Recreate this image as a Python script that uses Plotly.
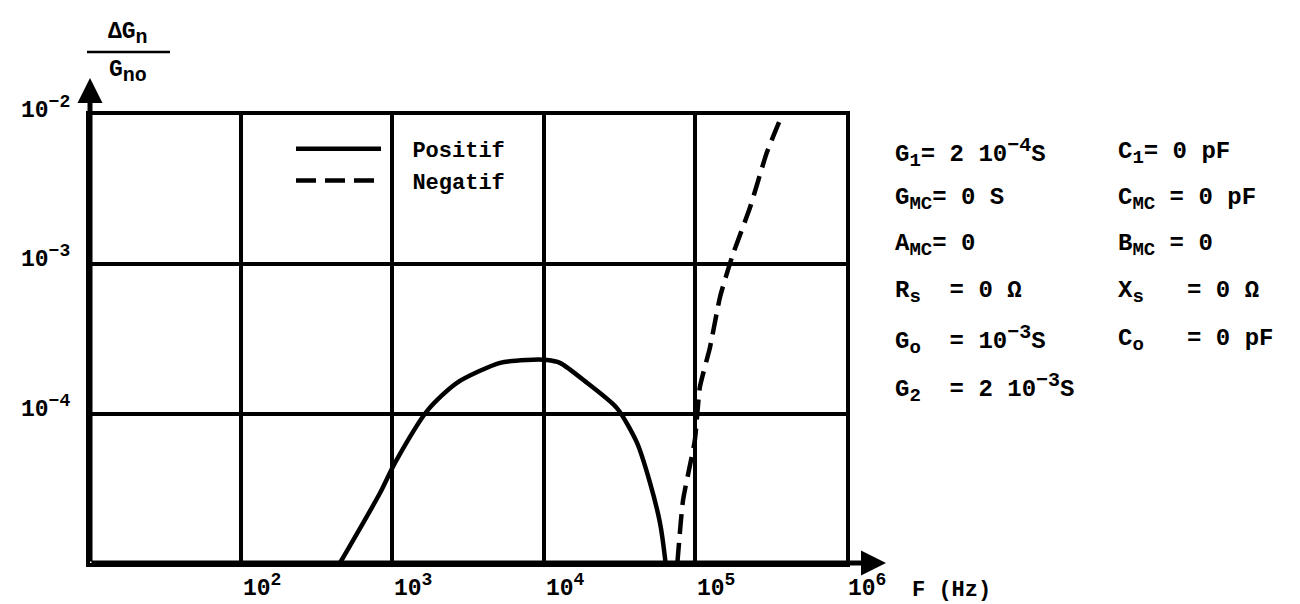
import plotly.graph_objects as go

# ---- data ----
freq_pos = [450, 828, 1040, 1718, 2673, 5152, 7762, 10520, 12820, 19360, 30550, 41500, 50580, 58880, 63530, 64000]
ratio_pos = [1.0e-5, 2.94e-5, 4.68e-5, 1.06e-4, 1.61e-4, 2.19e-4, 2.29e-4, 2.29e-4, 2.19e-4, 1.61e-4,
             1.09e-4, 6.37e-5, 3.44e-5, 1.85e-5, 1.08e-5, 1.0e-5]

freq_neg = [76700, 83600, 100000, 108100, 126200, 146900, 176200, 231700, 299900, 377600]
ratio_neg = [1.0e-5, 2.63e-5, 6.6e-5, 1.51e-4, 2.8e-4, 6.05e-4, 1.12e-3, 2.40e-3, 5.62e-3, 1.0e-2]

series_names = ["Positif", "Negatif"]
x_tick_exps = [2, 3, 4, 5, 6]
y_tick_exps = [-2, -3, -4]


def sup(t, s=18):
    return '<sup><span style="font-size:%dpx">%s</span></sup>' % (s, t)


def sub(t, s=19):
    return '<sub><span style="font-size:%dpx">%s</span></sub>' % (s, t)


params_left = ["G" + sub("1") + "= 2 10" + sup("\u22124", 20) + "S",
               "G" + sub("MC") + "= 0 S",
               "A" + sub("MC") + "= 0",
               "R" + sub("s") + "\u00a0 = 0 \u03a9",
               "G" + sub("o") + "\u00a0 = 10" + sup("\u22123", 20) + "S",
               "G" + sub("2") + "\u00a0 = 2 10" + sup("\u22123", 20) + "S"]
params_right = ["C" + sub("1") + "= 0 pF",
                "C" + sub("MC") + " = 0 pF",
                "B" + sub("MC") + " = 0",
                "X" + sub("s") + "\u00a0\u00a0 = 0 \u03a9",
                "C" + sub("o") + "\u00a0\u00a0 = 0 pF"]

# ---- layout geometry ----
W, H = 1300, 604
L, R, T, B = 90, 454, 115, 41
PW, PH = W - L - R, H - T - B
FONT = "Liberation Mono"


def px_x(p):
    return (p - L) / PW


def px_y(p):
    return (H - B - p) / PH


fig = go.Figure()
fig.add_trace(go.Scatter(x=freq_pos, y=ratio_pos, mode="lines", name="\u00a0\u00a0" + series_names[0],
                         line=dict(color="black", width=4.5, shape="spline", smoothing=0.7)))
fig.add_trace(go.Scatter(x=freq_neg, y=ratio_neg, mode="lines", name="\u00a0\u00a0" + series_names[1],
                         line=dict(color="black", width=4.5, dash="20px,9px", shape="spline", smoothing=0.5)))

axis_common = dict(type="log", dtick=1, showgrid=True, gridcolor="black", gridwidth=3.5,
                   showline=True, linecolor="black", linewidth=3.5, mirror=True,
                   showticklabels=False, ticks="", zeroline=False)

fig.update_layout(
    width=W, height=H,
    margin=dict(l=L, r=R, t=T, b=B),
    paper_bgcolor="white", plot_bgcolor="white",
    font=dict(family=FONT, color="black", size=22, weight="bold"),
    xaxis=dict(range=[1, 6], **axis_common),
    yaxis=dict(range=[-5, -2], **axis_common),
    showlegend=True,
    legend=dict(x=px_x(291), xanchor="left", y=px_y(128), yanchor="top",
                bgcolor="rgba(0,0,0,0)", itemwidth=85, tracegroupgap=0,
                font=dict(family=FONT, size=22, color="black", weight="bold")),
)

ann = []
# x tick labels
for k in x_tick_exps:
    ann.append(dict(x=k, xref="x", y=px_y(586), yref="paper", text="10" + sup(str(k)),
                    showarrow=False, xanchor="left", yanchor="middle",
                    font=dict(family=FONT, size=23, weight="bold")))
# y tick labels
for k in y_tick_exps:
    ann.append(dict(x=0, xref="paper", y=k, yref="y", text="10" + sup("\u2212%d" % (-k)),
                    showarrow=False, xanchor="right", yanchor="middle", xshift=-18, yshift=7,
                    font=dict(family=FONT, size=23, weight="bold")))
# axis titles
ann.append(dict(x=px_x(910), xref="paper", y=px_y(590), yref="paper", text="F (Hz)", showarrow=False,
                xanchor="left", yanchor="middle", font=dict(family=FONT, size=22, weight="bold")))
ann.append(dict(x=px_x(128), xref="paper", y=px_y(52), yref="paper", text="\u0394G" + sub("n", 20),
                showarrow=False, xanchor="center", yanchor="bottom", yshift=1,
                font=dict(family=FONT, size=23, weight="bold")))
ann.append(dict(x=px_x(128), xref="paper", y=px_y(52), yref="paper", text="G" + sub("no", 20),
                showarrow=False, xanchor="center", yanchor="top", yshift=-3,
                font=dict(family=FONT, size=23, weight="bold")))
# parameter block
rows_y = [153, 199, 245, 292, 340, 388]
for i, t in enumerate(params_left):
    ann.append(dict(x=px_x(893), xref="paper", y=px_y(rows_y[i]), yref="paper", text=t, showarrow=False,
                    xanchor="left", yanchor="middle", font=dict(family=FONT, size=24, weight="bold")))
for i, t in enumerate(params_right):
    ann.append(dict(x=px_x(1116), xref="paper", y=px_y(rows_y[i]), yref="paper", text=t, showarrow=False,
                    xanchor="left", yanchor="middle", font=dict(family=FONT, size=24, weight="bold")))
# axis arrows
ann.append(dict(x=0, xref="paper", y=px_y(78), yref="paper", text="", showarrow=True,
                ax=0, ay=H - B - 78, axref="pixel", ayref="pixel",
                arrowhead=2, arrowsize=1, arrowwidth=5, arrowcolor="black", standoff=0))
ann.append(dict(x=px_x(886), xref="paper", y=0, yref="paper", text="", showarrow=True,
                ax=-(886 - L), ay=0, axref="pixel", ayref="pixel",
                arrowhead=2, arrowsize=1, arrowwidth=5, arrowcolor="black", standoff=0))
fig.update_layout(annotations=ann)

# fraction bar of the y-axis title
fig.add_shape(type="line", xref="paper", yref="paper", x0=px_x(87), x1=px_x(170),
              y0=px_y(52), y1=px_y(52), line=dict(color="black", width=2.5))

fig.write_html("out.html")
